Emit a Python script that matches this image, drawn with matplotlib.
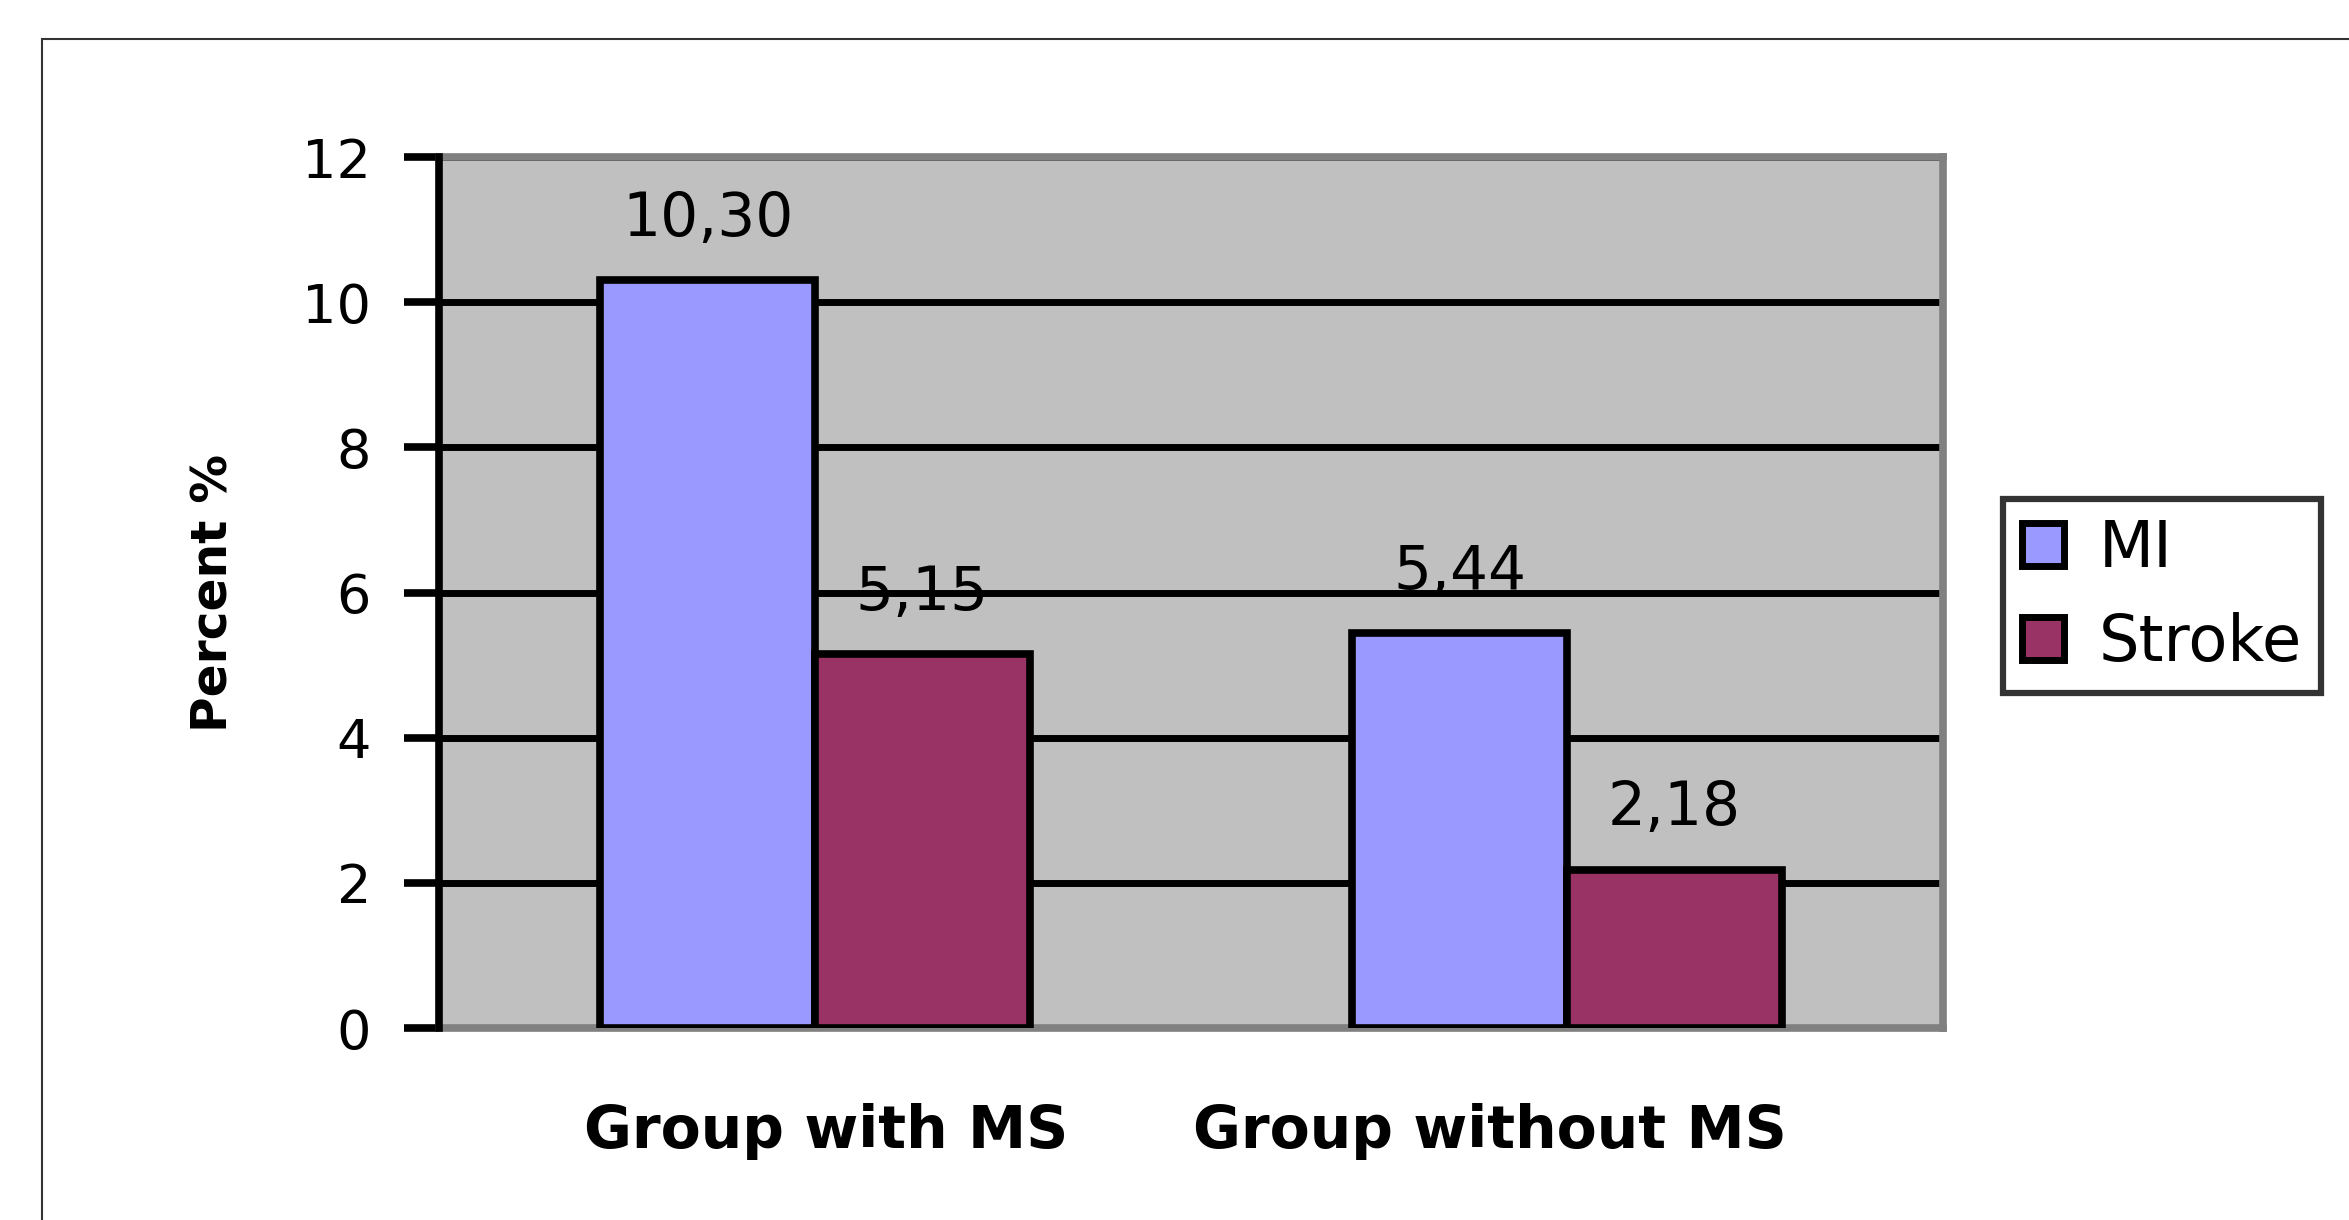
import matplotlib
matplotlib.use("Agg")
import matplotlib.pyplot as plt
import matplotlib.transforms as mtransforms
from matplotlib.patches import Rectangle
import numpy as np

# ── Data ────────────────────────────────────────────────────────────────────
groups = ["Group with MS", "Group without MS"]
mi_vals = [10.30, 5.44]
stroke_vals = [5.15, 2.18]
series_names = ["MI", "Stroke"]
y_ticks = [0, 2, 4, 6, 8, 10, 12]

# ── Style ───────────────────────────────────────────────────────────────────
MI_COLOR = "#9999FF"
STROKE_COLOR = "#993366"
BG_COLOR = "#C0C0C0"
BORDER_GRAY = "#808080"
LW_BAR = 5.5
LW_GRID = 5.0

plt.rcParams["font.family"] = ["DejaVu Sans"]

W, H, DPI = 2349, 1220, 100
fig = plt.figure(figsize=(W / DPI, H / DPI), dpi=DPI)
fig.patch.set_facecolor("white")

# plot area (pixel box of the reference)
left, right, top, bottom = 439, 1943, 157, 1028
ax = fig.add_axes([left / W, (H - bottom) / H, (right - left) / W, (bottom - top) / H])
ax.set_facecolor(BG_COLOR)

x = np.arange(len(groups))
bw = 0.2857
bars_mi = ax.bar(x - bw / 2, mi_vals, bw, color=MI_COLOR, edgecolor="black",
                 linewidth=LW_BAR, zorder=3, label=series_names[0])
bars_st = ax.bar(x + bw / 2, stroke_vals, bw, color=STROKE_COLOR, edgecolor="black",
                 linewidth=LW_BAR, zorder=3, label=series_names[1])

# value labels with decimal comma
for bars, vals in ((bars_mi, mi_vals), (bars_st, stroke_vals)):
    for b, v in zip(bars, vals):
        ax.annotate(f"{v:.2f}".replace(".", ","),
                    xy=(b.get_x() + b.get_width() / 2, v),
                    xytext=(0, 44), textcoords="offset points",
                    ha="center", va="center", fontsize=43, color="black")

ax.set_xlim(-0.5, 1.5)
ax.set_ylim(0, 12)
ax.set_yticks(y_ticks)
ax.set_yticklabels([str(t) for t in y_ticks])
ax.yaxis.grid(True, color="black", linewidth=LW_GRID)
ax.set_axisbelow(True)

ax.tick_params(axis="y", direction="out", length=25, width=LW_BAR, pad=24,
               labelsize=39, colors="black")
ax.set_xticks(x)
ax.set_xticklabels(groups, fontsize=42, fontweight="bold")
ax.tick_params(axis="x", length=0, pad=54)

# shift category labels like the reference
offsets = [11, -77]
for lab, dx in zip(ax.get_xticklabels(), offsets):
    lab.set_transform(lab.get_transform() + mtransforms.Affine2D().translate(dx, 0))

ax.set_ylabel("Percent %", fontsize=35, fontweight="bold")
ax.yaxis.set_label_coords(-0.134, 0.5)

for side in ("top", "right", "bottom"):
    ax.spines[side].set_color(BORDER_GRAY)
    ax.spines[side].set_linewidth(LW_BAR)
ax.spines["left"].set_color("black")
ax.spines["left"].set_linewidth(LW_BAR)
ax.spines["left"].set_zorder(4)

# legend
leg = fig.legend(loc="upper left", bbox_to_anchor=(2003 / W, 1 - 499 / H),
                 borderaxespad=0, fontsize=46, frameon=True, fancybox=False,
                 handlelength=0.65, handleheight=0.65, handletextpad=0.55,
                 labelspacing=0.5, borderpad=0.3)
leg.get_frame().set_edgecolor("black")
leg.get_frame().set_linewidth(4.5)
for h in leg.legend_handles:
    h.set_linewidth(5)

# chart-area border
fig.patches.append(Rectangle((42 / W, -0.1), 1.2, 0.1 + (1 - 39 / H),
                             transform=fig.transFigure, fill=False,
                             edgecolor="#333333", linewidth=1.5, clip_on=False))

fig.savefig("out.png", dpi=DPI)
